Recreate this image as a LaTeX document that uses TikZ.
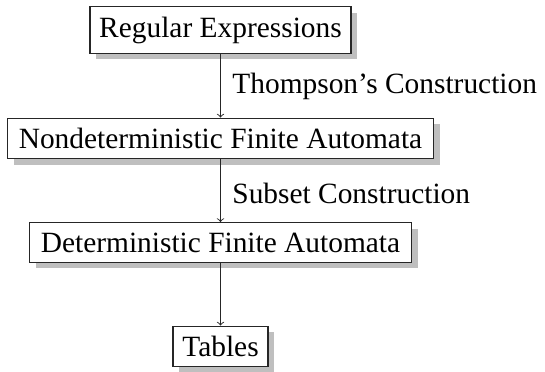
\documentclass[tikz,border=0pt]{standalone}
\usepackage{fontspec}
\setmainfont{Liberation Serif}
\usetikzlibrary{shadows}
\begin{document}
\begin{tikzpicture}[x=0.5pt,y=-0.5pt,
  stage/.style={draw=black!85, line width=0.6pt, fill=white,
    inner xsep=0pt, inner ysep=5pt,
    font=\fontsize{14.7}{17}\selectfont,
    drop shadow={shadow xshift=3pt, shadow yshift=-3pt, fill=black!25, opacity=1}},
  steplabel/.style={anchor=base west, inner sep=0pt,
    font=\fontsize{14.7}{17}\selectfont},
  flow/.style={->, line width=0.45pt, black!85}]
\useasboundingbox (0,0) rectangle (545,371);

% the four stages of the pipeline
\node[stage, minimum width=130.5pt] (re)    at (220.5,30)    {Regular Expressions};
\node[stage, minimum width=213pt]   (nfa)   at (220.5,138.5) {Nondeterministic Finite Automata};
\node[stage, minimum width=191pt]   (dfa)   at (220.5,242.5) {Deterministic Finite Automata};
\node[stage, minimum width=47.5pt]  (tab)   at (220.5,346.5) {Tables};

% transformations between stages
\draw[flow] (re)  -- (nfa);
\draw[flow] (nfa) -- (dfa);
\draw[flow] (dfa) -- (tab);

\node[steplabel] (thompson) at (232,93)  {Thompson’s Construction};
\node[steplabel] (subset)   at (232,203) {Subset Construction};
\end{tikzpicture}
\end{document}
